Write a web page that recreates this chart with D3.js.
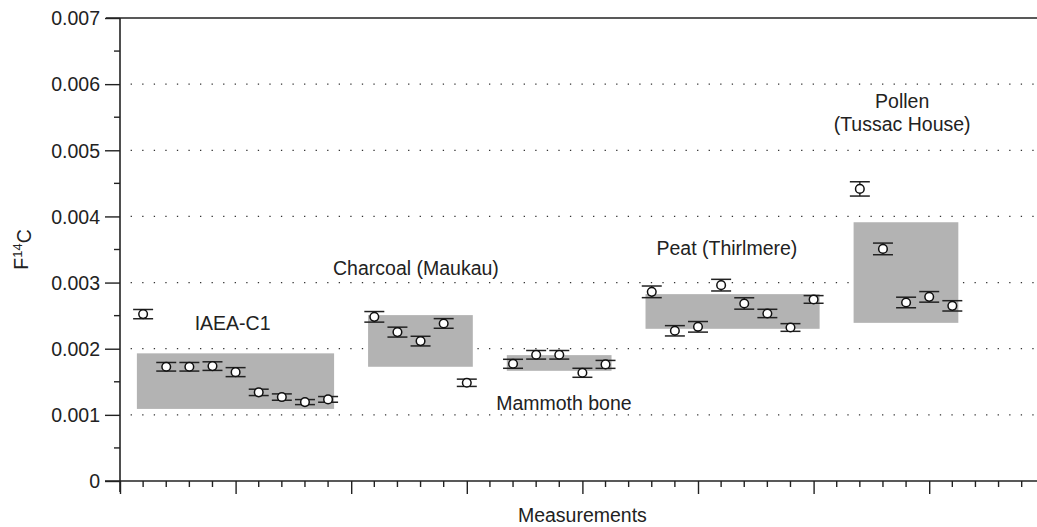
<!DOCTYPE html>
<html>
<head>
<meta charset="utf-8">
<script src="https://cdn.jsdelivr.net/npm/d3@7"></script>
<style>
  body { margin: 0; background: #fff; }
  svg text { font-family: "Liberation Sans", Arial, sans-serif; fill: #222; }
</style>
</head>
<body>
<div id="chart"></div>
<script>
'use strict';

// measurement positions along x (tick index) and F14C values
const measIndex = [1, 2, 3, 4, 5, 6, 7, 8, 9,
  11, 12, 13, 14, 15,
  17, 18, 19, 20, 21,
  23, 24, 25, 26, 27, 28, 29, 30,
  32, 33, 34, 35, 36];
const f14c = [0.002523, 0.001727, 0.001727, 0.001737, 0.001646, 0.001340, 0.001269, 0.001193, 0.001234,
  0.002482, 0.002251, 0.002115, 0.002382, 0.001485,
  0.001772, 0.001908, 0.001908, 0.001636, 0.001763,
  0.002860, 0.002271, 0.002331, 0.002961, 0.002684, 0.002533, 0.002321, 0.002745,
  0.004416, 0.003509, 0.002699, 0.002784, 0.002648];
const f14cErr = [0.000070, 0.000065, 0.000065, 0.000065, 0.000068, 0.000048, 0.000048, 0.000038, 0.000043,
  0.000080, 0.000075, 0.000073, 0.000073, 0.000055,
  0.000068, 0.000065, 0.000065, 0.000068, 0.000060,
  0.000088, 0.000078, 0.000080, 0.000088, 0.000086, 0.000063, 0.000058, 0.000058,
  0.000108, 0.000088, 0.000080, 0.000080, 0.000078];

// shaded ranges per sample group
const boxFirst = [1, 11, 17, 23, 32];
const boxLast = [9, 15, 21, 30, 36];
const boxLow = [0.00109, 0.001727, 0.001666, 0.002301, 0.002391];
const boxHigh = [0.00193, 0.002508, 0.001903, 0.002825, 0.003912];

// group labels: lines, x position (tick index), y value of first baseline
const groupLabels = [
  { lines: ['IAEA-C1'], x: 4.87, y: 0.00229 },
  { lines: ['Charcoal (Maukau)'], x: 12.8, y: 0.003111 },
  { lines: ['Mammoth bone'], x: 19.2, y: 0.001073 },
  { lines: ['Peat (Thirlmere)'], x: 26.25, y: 0.003414 },
  { lines: ['Pollen', '(Tussac House)'], x: 33.83, y: 0.005634 }
];

const yMajor = [0, 0.001, 0.002, 0.003, 0.004, 0.005, 0.006, 0.007];
const yTickLabels = ['0', '0.001', '0.002', '0.003', '0.004', '0.005', '0.006', '0.007'];
const yMinor = [0.0005, 0.0015, 0.0025, 0.0035, 0.0045, 0.0055, 0.0065];
const xMajor = [0, 5, 10, 15, 20, 25, 30, 35, 40];
const xMinor = d3.range(0, 41);

const size = { width: 1037, height: 527 };

const svg = d3.select('#chart').append('svg')
  .attr('width', size.width)
  .attr('height', size.height);

const x = d3.scaleLinear().domain([0, 40]).range([120, 1044.8]);
const y = d3.scaleLinear().domain([0, 0.007]).range([481, 18]);

// dotted grid
svg.append('g').selectAll('line')
  .data([0.001, 0.002, 0.003, 0.004, 0.005, 0.006])
  .enter().append('line')
    .attr('x1', x(0.46)).attr('x2', size.width)
    .attr('y1', d => y(d)).attr('y2', d => y(d))
    .attr('stroke', '#333')
    .attr('stroke-width', 1.3)
    .attr('stroke-dasharray', '1.3,10.26');

// top border line
svg.append('line')
  .attr('x1', 106).attr('x2', size.width)
  .attr('y1', y(0.007)).attr('y2', y(0.007))
  .attr('stroke', '#222').attr('stroke-width', 1.4);

// shaded ranges
svg.append('g').selectAll('rect')
  .data(boxFirst)
  .enter().append('rect')
    .attr('x', (d, i) => x(d - 0.27))
    .attr('width', (d, i) => x(boxLast[i] + 0.26) - x(d - 0.27))
    .attr('y', (d, i) => y(boxHigh[i]))
    .attr('height', (d, i) => y(boxLow[i]) - y(boxHigh[i]))
    .attr('fill', '#b3b3b3');

// y axis
const yAxis = svg.append('g').attr('transform', 'translate(120,0)');
yAxis.call(d3.axisLeft(y).tickValues(yMajor).tickSize(15)
  .tickFormat((d, i) => yTickLabels[i]));
yAxis.call(g => g.select('.domain').remove());
yAxis.selectAll('.tick line').attr('stroke', '#222').attr('stroke-width', 1.4);
yAxis.selectAll('.tick text').style('font-size', '19.5px').attr('x', -20).attr('dy', '0.35em');
yAxis.selectAll('.minor')
  .data(yMinor)
  .enter().append('line')
    .attr('x1', -6).attr('x2', 0)
    .attr('y1', d => y(d)).attr('y2', d => y(d))
    .attr('stroke', '#222').attr('stroke-width', 1.4);
yAxis.append('line')
  .attr('x1', 0).attr('x2', 0)
  .attr('y1', y(0.007)).attr('y2', 492)
  .attr('stroke', '#222').attr('stroke-width', 1.6);

// x axis
const xAxis = svg.append('g').attr('transform', 'translate(0,' + y(0) + ')');
xAxis.call(d3.axisBottom(x).tickValues(xMajor).tickSize(13).tickFormat(''));
xAxis.call(g => g.select('.domain').remove());
xAxis.selectAll('.tick line').attr('stroke', '#222').attr('stroke-width', 1.4);
xAxis.selectAll('.minor')
  .data(xMinor.filter(d => d % 5 !== 0))
  .enter().append('line')
    .attr('x1', d => x(d)).attr('x2', d => x(d))
    .attr('y1', 0).attr('y2', 6)
    .attr('stroke', '#222').attr('stroke-width', 1.4);
xAxis.append('line')
  .attr('x1', 105).attr('x2', size.width)
  .attr('y1', 0).attr('y2', 0)
  .attr('stroke', '#222').attr('stroke-width', 1.6);

// axis titles
svg.append('text')
  .attr('x', x(20)).attr('y', 522)
  .attr('text-anchor', 'middle')
  .style('font-size', '19.5px')
  .text('Measurements');

const yTitle = svg.append('text')
  .attr('transform', 'translate(28,' + ((y(0) + y(0.007)) / 2) + ') rotate(-90)')
  .attr('text-anchor', 'middle')
  .style('font-size', '19.5px');
yTitle.append('tspan').text('F');
yTitle.append('tspan').attr('dy', '-0.45em').style('font-size', '13px').text('14');
yTitle.append('tspan').attr('dy', '0.45em').text('C');

// error bars and points
const pts = svg.append('g').selectAll('g')
  .data(measIndex)
  .enter().append('g');

pts.append('line')
  .attr('x1', d => x(d)).attr('x2', d => x(d))
  .attr('y1', (d, i) => y(f14c[i] + f14cErr[i]))
  .attr('y2', (d, i) => y(f14c[i] - f14cErr[i]))
  .attr('stroke', '#222').attr('stroke-width', 1.4);

[1, -1].forEach(s => {
  pts.append('line')
    .attr('x1', d => x(d) - 10).attr('x2', d => x(d) + 10)
    .attr('y1', (d, i) => y(f14c[i] + s * f14cErr[i]))
    .attr('y2', (d, i) => y(f14c[i] + s * f14cErr[i]))
    .attr('stroke', '#222').attr('stroke-width', 1.5);
});

pts.append('circle')
  .attr('cx', d => x(d))
  .attr('cy', (d, i) => y(f14c[i]))
  .attr('r', 4.3)
  .attr('fill', '#fff')
  .attr('stroke', '#111')
  .attr('stroke-width', 1.5);

// group labels
groupLabels.forEach(lab => {
  const t = svg.append('text')
    .attr('x', x(lab.x))
    .attr('y', y(lab.y))
    .attr('text-anchor', 'middle')
    .style('font-size', '19.5px');
  lab.lines.forEach((line, k) => {
    t.append('tspan')
      .attr('x', x(lab.x))
      .attr('dy', k === 0 ? 0 : 23)
      .text(line);
  });
});
</script>
</body>
</html>
